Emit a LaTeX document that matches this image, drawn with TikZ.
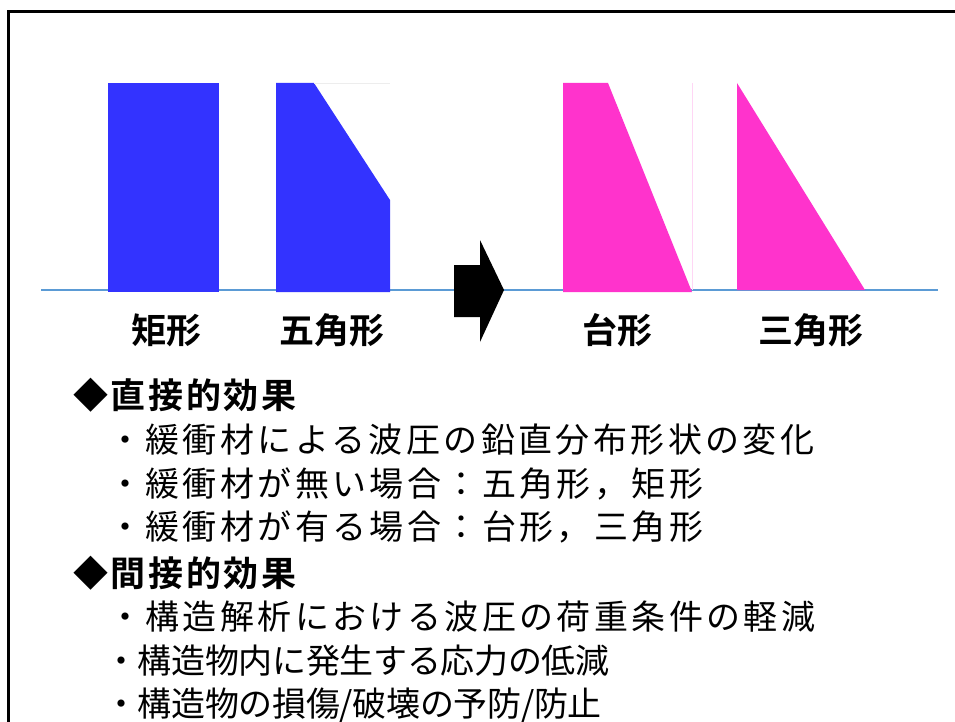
\documentclass[tikz,border=0pt]{standalone}
\usepackage{fontspec}
\newfontfamily\jp[LetterSpace=10]{Noto Sans CJK JP}
\newfontfamily\jpt[LetterSpace=-1]{Noto Sans CJK JP}
\newfontfamily\jpb{Noto Sans CJK JP Bold}
\newfontfamily\jph[LetterSpace=7.5]{Noto Sans CJK JP Bold}
\definecolor{shapeblue}{HTML}{3333FF}
\definecolor{shapepink}{HTML}{FF33CC}
\definecolor{baseblue}{HTML}{5B9BD5}
\tikzset{
  label/.style={inner sep=0pt, font=\jpb\fontsize{35}{35}\selectfont, anchor=center},
  heading/.style={inner sep=0pt, font=\jph\fontsize{35}{35}\selectfont, anchor=west},
  bodyline/.style={inner sep=0pt, font=\jp\fontsize{34}{34}\selectfont, anchor=west},
  tightline/.style={inner sep=0pt, font=\jpt\fontsize{34}{34}\selectfont, anchor=west},
}
\begin{document}
\begin{tikzpicture}[x=1pt,y=-1pt]
\useasboundingbox (0,0) rectangle (955,722);
% frame
\draw[line width=2.7pt] (8.7,722) -- (8.7,11.3) -- (955,11.3);
% base line
\draw[baseblue, line width=2pt] (41,290) -- (938,290);
% shapes
\fill[shapeblue] (108,83) rectangle (219,292);
\fill[shapeblue] (276,83) -- (314,83) -- (390,200) -- (390,292) -- (276,292) -- cycle;
\draw[black!7, line width=0.6pt] (314,83) -- (390,83);
\fill[shapepink] (563,83) -- (608,83) -- (692,292) -- (563,292) -- cycle;
\draw[shapepink!20, line width=0.6pt] (692,83) -- (692,290);
\fill[shapepink] (737,83) -- (865,290) -- (737,290) -- cycle;
% arrow
\fill[black] (454,265) -- (480,265) -- (480,240) -- (504,290) -- (480,342) -- (480,317) -- (454,317) -- cycle;
% labels
\node[label] (l1) at (166,330) {矩形};
\node[label] (l2) at (332,330) {五角形};
\node[label] (l3) at (617,330) {台形};
\node[label] (l4) at (811,330) {三角形};
% text
\node[heading] (h1) at (73,395) {◆直接的効果};
\node[bodyline] (b1) at (108,440) {・緩衝材による波圧の鉛直分布形状の変化};
\node[bodyline] (b2) at (108,484) {・緩衝材が無い場合：五角形，矩形};
\node[bodyline] (b3) at (108,527) {・緩衝材が有る場合：台形，三角形};
\node[heading] (h2) at (73,573) {◆間接的効果};
\node[bodyline] (b4) at (108,617) {・構造解析における波圧の荷重条件の軽減};
\node[tightline] (b5) at (104,661) {・構造物内に発生する応力の低減};
\node[tightline] (b6) at (104,705) {・構造物の損傷/破壊の予防/防止};
\end{tikzpicture}
\end{document}
